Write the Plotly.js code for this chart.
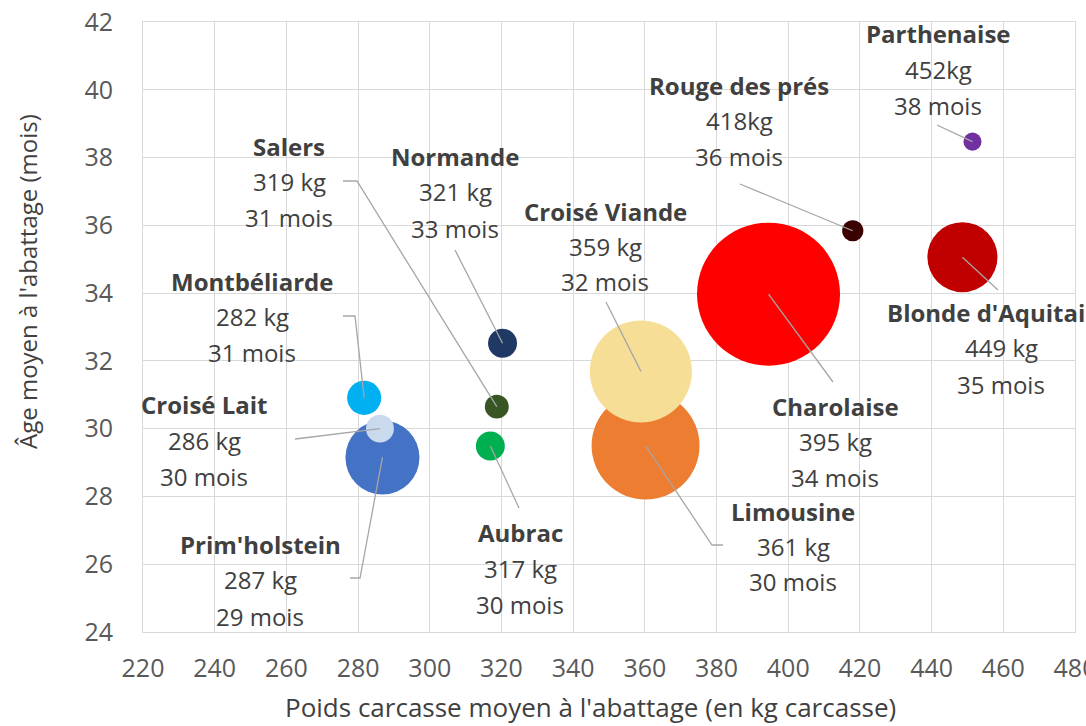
<!DOCTYPE html>
<html>
<head>
<meta charset="utf-8">
<script src="https://cdn.plot.ly/plotly-3.0.1.min.js"></script>
<style>
    body { margin: 0; background: #fff; }
    #chart { width: 1086px; height: 726px; }
</style>
</head>
<body>
<div id="chart"></div>
<script>
// Races, in drawing order (the patterned bubbles come after the ones they overlap)
const races = ['Parthenaise', 'Rouge des prés', "Blonde d'Aquitaine", 'Charolaise', 'Limousine',
    'Croisé Viande', 'Normande', 'Salers', 'Aubrac', 'Montbéliarde', "Prim'holstein", 'Croisé Lait'];
const poids = [451.4, 418.0, 448.6, 394.5, 360.2, 358.9, 320.3, 318.7, 316.9, 281.7, 286.8, 286.1];
const ages = [38.47, 35.84, 35.06, 33.97, 29.50, 31.69, 32.52, 30.65, 29.49, 30.91, 29.15, 30.00];
// relative number of animals slaughtered (bubble area)
const effectifs = [1.6, 2.2, 24.0, 100, 57.0, 50.9, 4.1, 2.8, 4.1, 5.7, 26.8, 3.8];
const poidsLabels = ['452kg', '418kg', '449 kg', '395 kg', '361 kg', '359 kg', '321 kg', '319 kg', '317 kg', '282 kg', '287 kg', '286 kg'];
const ageLabels = ['38 mois', '36 mois', '35 mois', '34 mois', '30 mois', '32 mois', '33 mois', '31 mois', '30 mois', '31 mois', '29 mois', '30 mois'];

const colors = ['#7030A0', '#3B0000', '#C00000', '#FF0000', '#ED7D31', '#F7DE96',
    '#1F3864', '#375623', '#00B050', '#00B0F0', '#4472C4', '#C9DAEF'];

// label blocks: centre x, then y of name / kg / mois lines (pixels)
const labelPos = [
    [938, 33, 69, 105],
    [739, 85, 120, 156],
    [1001, 312, 347, 384],
    [835, 406, 441, 477],
    [793, 511, 546, 581],
    [605, 211, 246, 281],
    [455, 156, 191, 228],
    [289, 146, 181, 217],
    [520, 532, 568, 604],
    [252, 281, 316, 352],
    [260, 544, 579, 616],
    [204, 404, 440, 476],
];
// leader line start (and elbow) points, in pixels; they end on the bubble
const leaders = [
    [[937, 125]],
    [[740, 184]],
    [[998, 290]],
    [[833, 382]],
    [[723, 545], [712, 545]],
    [[606, 302]],
    [[455, 250]],
    [[343, 181], [357, 181]],
    [[519, 508]],
    [[343, 316], [355, 316]],
    [[350, 578], [360, 578]],
    [[295, 439]],
];

const W = 1086, H = 726;
const margin = { l: 143, r: 11, t: 22, b: 94 };
const xRange = [220, 480], yRange = [24, 42];

function pxToX(px) {
    return xRange[0] + (px - margin.l) * (xRange[1] - xRange[0]) / (W - margin.l - margin.r);
}
function pxToY(py) {
    return yRange[1] - (py - margin.t) * (yRange[1] - yRange[0]) / (H - margin.t - margin.b);
}
function pxToPaperX(px) {
    return (px - margin.l) / (W - margin.l - margin.r);
}
function pxToPaperY(py) {
    return (H - margin.b - py) / (H - margin.t - margin.b);
}

const maxDiameter = 143;
const trace = {
    x: poids,
    y: ages,
    text: races,
    mode: 'markers',
    type: 'scatter',
    marker: {
        size: effectifs,
        sizemode: 'area',
        sizeref: 2 * Math.max(...effectifs) / (maxDiameter * maxDiameter),
        color: colors,
        opacity: 1,
        line: { width: 0 },
    },
    hoverinfo: 'text',
    showlegend: false,
};

const labelFont = { family: 'Open Sans, sans-serif', size: 24, color: '#404040' };
const annotations = [];
races.forEach(function (race, i) {
    const p = labelPos[i];
    const lines = ['<b>' + race + '</b>', poidsLabels[i], ageLabels[i]];
    lines.forEach(function (txt, k) {
        annotations.push({
            xref: 'x', yref: 'y',
            x: pxToX(p[0]), y: pxToY(p[k + 1]),
            text: txt,
            showarrow: false,
            xanchor: 'center', yanchor: 'middle',
            font: labelFont,
        });
    });
});

// axis titles, placed like in the original (not centred on the plot)
annotations.push({
    xref: 'paper', yref: 'paper',
    x: pxToPaperX(590),
    y: pxToPaperY(707),
    text: "Poids carcasse moyen à l'abattage (en kg carcasse)",
    showarrow: false,
    xanchor: 'center', yanchor: 'middle',
    borderpad: 0,
    font: { family: 'Open Sans, sans-serif', size: 26, color: '#404040' },
});
annotations.push({
    xref: 'paper', yref: 'paper',
    x: pxToPaperX(27),
    y: pxToPaperY(282),
    text: "Âge moyen à l'abattage (mois)",
    textangle: -90,
    showarrow: false,
    xanchor: 'center', yanchor: 'middle',
    font: { family: 'Open Sans, sans-serif', size: 24, color: '#404040' },
});

const shapes = leaders.map(function (pts, i) {
    let path = '';
    pts.forEach(function (pt, k) {
        path += (k === 0 ? 'M' : ' L') + pxToX(pt[0]) + ',' + pxToY(pt[1]);
    });
    path += ' L' + poids[i] + ',' + ages[i];
    return {
        type: 'path', xref: 'x', yref: 'y', path: path,
        line: { color: '#A6A6A6', width: 1.3 },
        layer: 'above',
    };
});

const layout = {
    width: W,
    height: H,
    margin: margin,
    paper_bgcolor: '#fff',
    plot_bgcolor: '#fff',
    font: { family: 'Open Sans, sans-serif', color: '#595959' },
    xaxis: {
        range: xRange,
        dtick: 20,
        tick0: 220,
        showgrid: true,
        gridcolor: '#D9D9D9',
        gridwidth: 1,
        zeroline: false,
        showline: true,
        linecolor: '#D9D9D9',
        mirror: true,
        ticks: '',
        ticklabelstandoff: 14,
        ticklabeloverflow: 'allow',
        tickfont: { size: 25, color: '#595959' },
    },
    yaxis: {
        range: yRange,
        dtick: 2,
        tick0: 24,
        showgrid: true,
        gridcolor: '#D9D9D9',
        gridwidth: 1,
        zeroline: false,
        showline: true,
        linecolor: '#D9D9D9',
        mirror: true,
        ticks: '',
        ticklabelstandoff: 24,
        tickfont: { size: 25, color: '#595959' },
    },
    annotations: annotations,
    shapes: shapes,
};

Plotly.newPlot('chart', [trace], layout, { displayModeBar: false, staticPlot: true });
</script>
</body>
</html>
